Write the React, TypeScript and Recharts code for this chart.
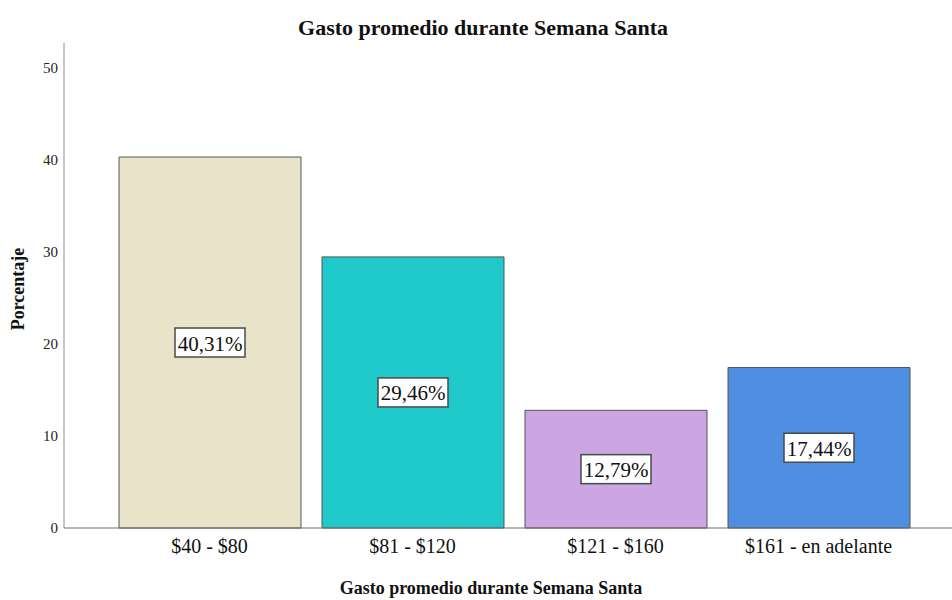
import React from 'react';
import { BarChart, Bar, XAxis, YAxis, Cell, LabelList } from 'recharts';

const categories = ['$40 - $80', '$81 - $120', '$121 - $160', '$161 - en adelante'];
const percentages = [40.31, 29.46, 12.79, 17.44];
const valueLabels = ['40,31%', '29,46%', '12,79%', '17,44%'];
const barColors = ['#E9E3CA', '#1FC9C9', '#CBA6E2', '#4F8FE1'];
const yTicks = [0, 10, 20, 30, 40, 50];

const titleText = 'Gasto promedio durante Semana Santa';
const xAxisTitle = 'Gasto promedio durante Semana Santa';
const yAxisTitle = 'Porcentaje';

const data = categories.map((c, i) => ({ category: c, value: percentages[i], label: valueLabels[i] }));

const FONT = 'Liberation Serif, Times New Roman, serif';

const BoxLabel = (props: any) => {
  const { x, y, width, height, value } = props;
  const cx = Number(x) + Number(width) / 2;
  const cy = Number(y) + Number(height) / 2;
  const w = 70;
  const h = 29;
  return (
    <g>
      <rect x={cx - w / 2} y={cy - h / 2} width={w} height={h} fill="#ffffff" stroke="#4a4a4a" strokeWidth={1.5} />
      <text x={cx} y={cy + 1} textAnchor="middle" dominantBaseline="central" fontFamily={FONT} fontSize={21} fill="#111">
        {value}
      </text>
    </g>
  );
};

const XLabel = (props: any) => {
  return (
    <text x={491} y={594} textAnchor="middle" fontFamily={FONT} fontWeight="bold" fontSize={18} fill="#111">
      {xAxisTitle}
    </text>
  );
};

const YLabel = (props: any) => {
  return (
    <text x={24} y={289} transform="rotate(-90 24 289)" textAnchor="middle" fontFamily={FONT} fontWeight="bold" fontSize={18} fill="#111">
      {yAxisTitle}
    </text>
  );
};

export default function App() {
  return (
    <div style={{ position: 'absolute', left: 0, top: 0, width: 952, height: 600, background: '#fff' }}>
      <div
        style={{
          position: 'absolute',
          left: 0,
          top: 15,
          width: 966,
          textAlign: 'center',
          fontFamily: FONT,
          fontWeight: 'bold',
          fontSize: 22,
          color: '#111',
          lineHeight: '26px',
        }}
      >
        {titleText}
      </div>
      <BarChart width={952} height={600} data={data} margin={{ top: 43, right: 0, bottom: 0, left: 0 }}>
        <YAxis
          type="number"
          domain={[0, 52.7]}
          ticks={yTicks}
          width={64}
          tickLine={false}
          tickSize={0}
          tickMargin={6}
          axisLine={{ stroke: '#8c8c8c', strokeWidth: 1 }}
          tick={{ fontFamily: FONT, fontSize: 15, fill: '#222' }}
          label={<YLabel />}
        />
        <XAxis
          dataKey="category"
          height={72}
          padding={{ left: 44, right: 32 }}
          tickLine={false}
          tickSize={0}
          tickMargin={11}
          axisLine={{ stroke: '#6e6e6e', strokeWidth: 1 }}
          tick={{ fontFamily: FONT, fontSize: 20, fill: '#111' }}
          interval={0}
          label={<XLabel />}
        />
        <Bar dataKey="value" barSize={182} isAnimationActive={false} stroke="#555" strokeWidth={1}>
          {data.map((d, i) => (
            <Cell key={d.category} fill={barColors[i]} />
          ))}
          <LabelList dataKey="label" content={<BoxLabel />} />
        </Bar>
      </BarChart>
    </div>
  );
}
